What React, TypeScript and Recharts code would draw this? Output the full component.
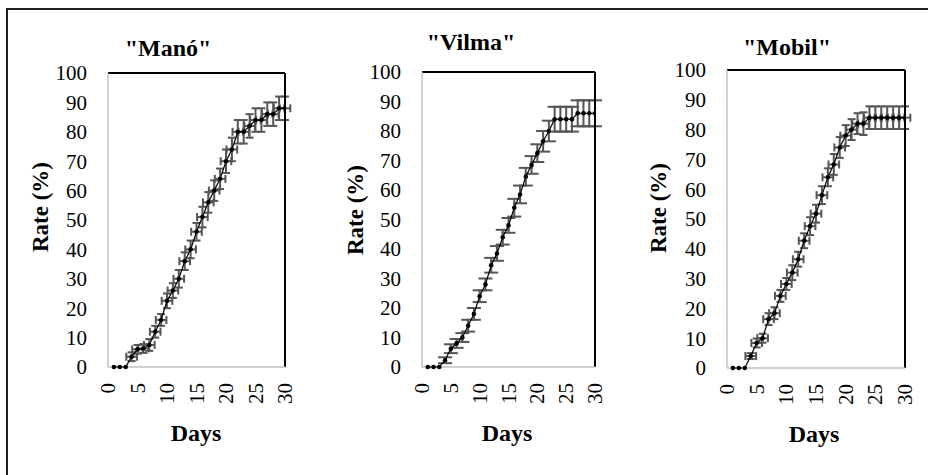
// Three germination-rate panels ("Manó", "Vilma", "Mobil") with error bars.
import { ErrorBar, ReferenceLine, Scatter, ScatterChart, XAxis, YAxis } from "recharts";

const days = [1, 2, 3, 4, 5, 6, 7, 8, 9, 10, 11, 12, 13, 14, 15, 16, 17, 18, 19, 20, 21, 22, 23, 24, 25, 26, 27, 28, 29, 30];
const xTicks = [0, 5, 10, 15, 20, 25, 30];
const yTicks = [0, 10, 20, 30, 40, 50, 60, 70, 80, 90, 100];

// "Manó"
const manoRate = [0, 0, 0, 3.5, 6, 6.3, 7.5, 12, 16, 22.5, 26, 30, 36, 40, 46, 51, 56, 60, 64, 70, 74, 80, 80, 82, 84, 84, 86, 86, 88, 88];
const manoErrY = [0, 0, 0, 1.5, 1.5, 1.5, 2, 2, 2, 2.5, 2.5, 3, 3, 3, 3, 3.5, 3.5, 3.5, 3.5, 4, 4, 4, 4, 4, 4, 4, 4, 4, 4, 4];
const manoErrX = [0, 0, 0, 0.9, 0.9, 0.9, 0.9, 0.9, 0.9, 0.9, 0.9, 0.9, 0.9, 0.9, 0.9, 0.9, 0.9, 0.9, 0.9, 0.9, 0.9, 0.9, 0.9, 0.9, 0.9, 0.9, 0.9, 0.9, 0.9, 0.9];

// "Vilma"
const vilmaRate = [0, 0, 0, 2.3, 6.2, 8, 10, 14, 18, 24, 28, 34.5, 38.5, 44, 48, 54, 58.5, 64.5, 68.5, 72.5, 76.5, 80, 84, 84, 84, 84, 86, 86, 86, 86];
const vilmaErrY = [0, 0, 0, 1, 1.5, 1.5, 1.5, 2, 2, 2, 2, 2.5, 2.5, 2.5, 2.5, 3, 3, 3, 3, 3, 3.5, 3.5, 4.2, 4.2, 4.2, 4.2, 4.4, 4.4, 4.4, 4.4];

// "Mobil"
const mobilRate = [0, 0, 0, 4, 8.4, 10, 16.4, 18.4, 24.2, 28.2, 32, 36.5, 42.7, 47.6, 51.8, 58, 64, 68.3, 74, 78, 80, 82, 82, 84, 84, 84, 84, 84, 84, 84];
const mobilErrY = [0, 0, 0, 1, 1.5, 1.5, 2, 2, 2, 2, 2.5, 2.5, 2.5, 3, 3, 3, 3, 3.5, 3.5, 3.5, 3.5, 3.5, 3.8, 3.8, 3.8, 3.8, 3.8, 3.8, 3.8, 3.8];
const mobilErrX = [0, 0, 0, 0.9, 0.9, 0.9, 0.9, 0.9, 0.9, 0.9, 0.9, 0.9, 0.9, 0.9, 0.9, 0.9, 0.9, 0.9, 0.9, 0.9, 0.9, 0.9, 0.9, 0.9, 0.9, 0.9, 0.9, 0.9, 0.9, 0.9];

const FONT = '"Liberation Serif", "Times New Roman", serif';
const ERR = "#555555";
const AXIS = "#c0c0c0";

interface PanelLayout {
  plotLeft: number;
  plotRight: number;
  plotTop: number;
  plotBottom: number;
  title: [number, number];
  yLabel: [number, number];
  xLabel: [number, number];
}

interface PanelProps {
  title: string;
  layout: PanelLayout;
  rate: number[];
  errY: number[];
  errX?: number[];
  capWidth: number;
}

const ML = 60;
const MR = 20;
const MT = 20;
const XH = 50;

const Dot = (props: any) => <circle cx={props.cx} cy={props.cy} r={2.3} fill="#000" />;

const XTick = ({ x, y, payload }: any) => (
  <text
    x={x}
    y={y}
    transform={`rotate(-90, ${x}, ${y})`}
    textAnchor="end"
    dominantBaseline="central"
    fontFamily={FONT}
    fontSize={21}
    fill="#000"
  >
    {payload.value}
  </text>
);

const textStyle = (cx: number, cy: number, rotate = false): React.CSSProperties => ({
  position: "absolute",
  left: cx,
  top: cy,
  transform: `translate(-50%, -50%)${rotate ? " rotate(-90deg)" : ""}`,
  whiteSpace: "nowrap",
  fontFamily: FONT,
  fontWeight: "bold",
  color: "#000",
  lineHeight: 1,
});

function Panel({ title, layout, rate, errY, errX, capWidth }: PanelProps) {
  const data = days.map((d, i) => ({ day: d, rate: rate[i], ey: errY[i], ex: errX ? errX[i] : 0 }));
  const width = layout.plotRight - layout.plotLeft + ML + MR;
  const height = layout.plotBottom - layout.plotTop + MT + XH;

  return (
    <>
      <div style={{ ...textStyle(layout.title[0], layout.title[1]), fontSize: 24 }}>{title}</div>
      <div style={{ ...textStyle(layout.yLabel[0], layout.yLabel[1], true), fontSize: 23 }}>Rate (%)</div>
      <div style={{ ...textStyle(layout.xLabel[0], layout.xLabel[1]), fontSize: 24 }}>Days</div>
      <div style={{ position: "absolute", left: layout.plotLeft - ML, top: layout.plotTop - MT }}>
        <ScatterChart width={width} height={height} margin={{ top: MT, right: MR, left: 0, bottom: 0 }}>
          <XAxis
            type="number"
            dataKey="day"
            domain={[0, 30]}
            allowDataOverflow
            ticks={xTicks}
            interval={0}
            height={XH}
            tickLine={false}
            tickSize={0}
            tickMargin={16}
            axisLine={{ stroke: AXIS, strokeWidth: 1.5 }}
            tick={<XTick />}
          />
          <YAxis
            type="number"
            dataKey="rate"
            domain={[0, 100]}
            ticks={yTicks}
            interval={0}
            width={ML}
            tickLine={false}
            tickSize={0}
            tickMargin={21}
            axisLine={{ stroke: AXIS, strokeWidth: 1.5 }}
            tick={{ fontFamily: FONT, fontSize: 21, fill: "#000" }}
          />
          <Scatter
            data={data}
            dataKey="rate"
            line={{ stroke: "#000", strokeWidth: 1.2 }}
            shape={<Dot />}
            isAnimationActive={false}
          >
            <ErrorBar dataKey="ey" direction="y" width={capWidth} stroke={ERR} strokeWidth={2} />
            {errX && <ErrorBar dataKey="ex" direction="x" width={capWidth} stroke={ERR} strokeWidth={2} />}
          </Scatter>
          <ReferenceLine y={100} stroke="#000" strokeWidth={2} />
          <ReferenceLine x={30} stroke="#000" strokeWidth={2} />
        </ScatterChart>
      </div>
    </>
  );
}

const manoLayout: PanelLayout = {
  plotLeft: 108, plotRight: 285, plotTop: 73, plotBottom: 367,
  title: [168, 48], yLabel: [40, 207], xLabel: [196, 433],
};
const vilmaLayout: PanelLayout = {
  plotLeft: 422, plotRight: 595, plotTop: 72, plotBottom: 367,
  title: [471, 42], yLabel: [355, 210], xLabel: [507, 433],
};
const mobilLayout: PanelLayout = {
  plotLeft: 727, plotRight: 905, plotTop: 70, plotBottom: 368,
  title: [787, 47], yLabel: [658, 208], xLabel: [814, 434],
};

export default function App() {
  return (
    <div style={{ position: "absolute", left: 0, top: 0, width: 928, height: 475, overflow: "hidden", background: "#fff" }}>
      <div
        style={{
          position: "absolute",
          left: 6,
          top: 8,
          width: 960,
          height: 500,
          border: "2.5px solid #1e1e1e",
        }}
      />
      <Panel title={'"Manó"'} layout={manoLayout} rate={manoRate} errY={manoErrY} errX={manoErrX} capWidth={4} />
      <Panel title={'"Vilma"'} layout={vilmaLayout} rate={vilmaRate} errY={vilmaErrY} capWidth={7} />
      <Panel title={'"Mobil"'} layout={mobilLayout} rate={mobilRate} errY={mobilErrY} errX={mobilErrX} capWidth={4} />
    </div>
  );
}
